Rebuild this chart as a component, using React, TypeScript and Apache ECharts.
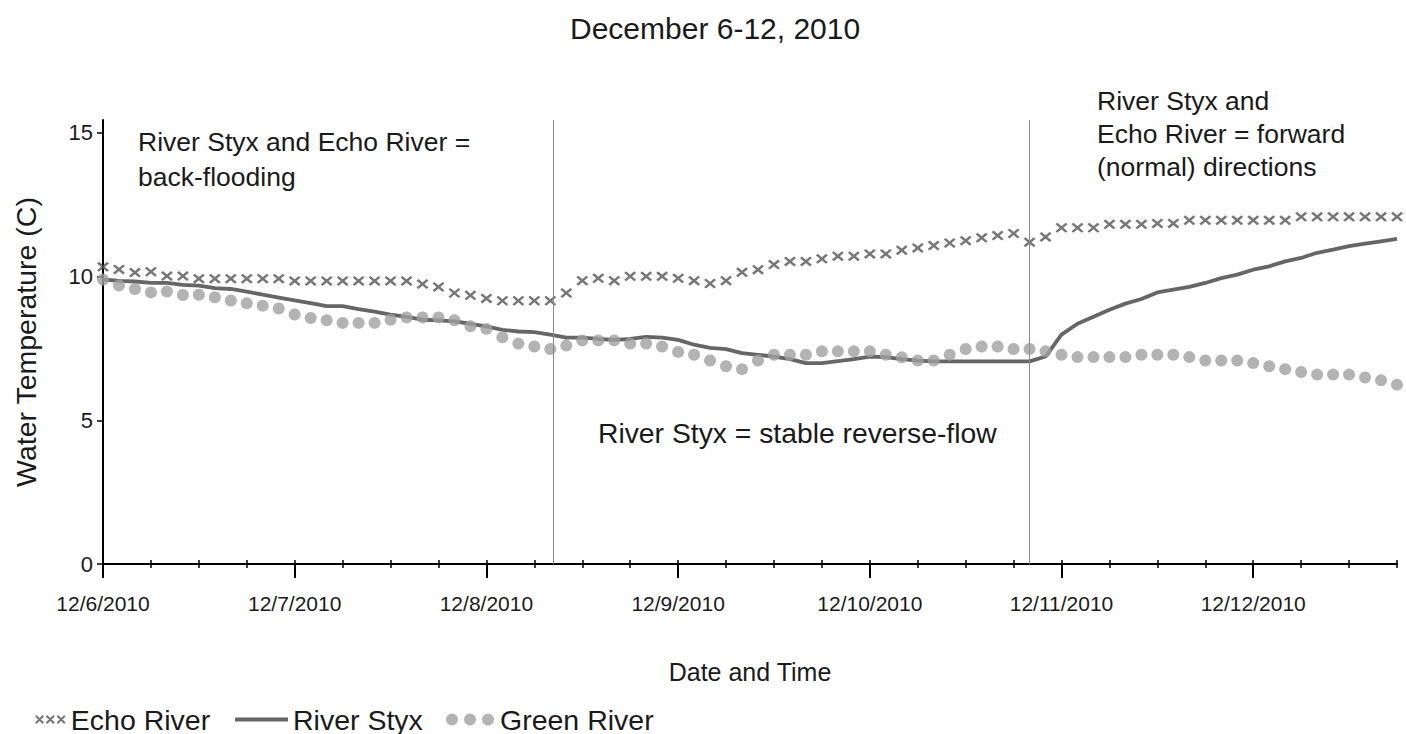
import React, { useEffect, useRef } from "react";
import * as echarts from "echarts";

const TITLE = "December 6-12, 2010";
const Y_NAME = "Water Temperature (C)";
const X_NAME = "Date and Time";
const DAY_LABELS = ["12/6/2010", "12/7/2010", "12/8/2010", "12/9/2010", "12/10/2010", "12/11/2010", "12/12/2010"];
const DAY_HOURS = [0, 24, 48, 72, 96, 120, 144];
const Y_TICKS = [0, 5, 10, 15];
const PHASE_LINES_HOURS = [56.4, 116];

// samples every 2 hours starting 12/6/2010 00:00
const SAMPLE_HOURS: number[] = Array.from({ length: 82 }, (_, i) => i * 2);

const ECHO_RIVER = [
  10.34, 10.25, 10.14, 10.17, 10.02, 10.02, 9.93, 9.93, 9.93, 9.93, 9.93, 9.93,
  9.85, 9.85, 9.85, 9.85, 9.85, 9.85, 9.85, 9.85, 9.74, 9.64, 9.43, 9.35,
  9.24, 9.16, 9.16, 9.16, 9.16, 9.43, 9.86, 9.94, 9.86, 10.01, 10.01, 10.01,
  9.94, 9.86, 9.76, 9.86, 10.15, 10.24, 10.42, 10.53, 10.53, 10.62, 10.71, 10.71,
  10.79, 10.79, 10.92, 11.0, 11.08, 11.17, 11.25, 11.35, 11.43, 11.5, 11.2, 11.38,
  11.7, 11.7, 11.7, 11.82, 11.82, 11.82, 11.85, 11.85, 11.96, 11.96, 11.96, 11.96,
  11.96, 11.96, 11.96, 12.08, 12.08, 12.08, 12.08, 12.08, 12.08, 12.08,
];

const RIVER_STYX = [
  9.9, 9.85, 9.83, 9.78, 9.78, 9.71, 9.69, 9.6, 9.57, 9.48, 9.37, 9.27,
  9.17, 9.08, 8.97, 8.97, 8.87, 8.78, 8.68, 8.6, 8.5, 8.48, 8.44, 8.36,
  8.27, 8.15, 8.09, 8.07, 7.98, 7.88, 7.88, 7.83, 7.8, 7.83, 7.9, 7.88,
  7.8, 7.63, 7.52, 7.48, 7.34, 7.28, 7.22, 7.13, 6.99, 6.99, 7.06, 7.13,
  7.22, 7.2, 7.13, 7.08, 7.05, 7.05, 7.05, 7.05, 7.05, 7.05, 7.05, 7.22,
  7.98, 8.36, 8.6, 8.85, 9.06, 9.22, 9.45, 9.55, 9.64, 9.78, 9.95, 10.07,
  10.24, 10.36, 10.53, 10.65, 10.83, 10.94, 11.06, 11.15, 11.23, 11.31,
];

const GREEN_RIVER = [
  9.9, 9.69, 9.57, 9.45, 9.48, 9.36, 9.37, 9.28, 9.17, 9.07, 8.99, 8.89,
  8.68, 8.56, 8.48, 8.39, 8.39, 8.39, 8.5, 8.58, 8.58, 8.58, 8.48, 8.27,
  8.18, 7.89, 7.67, 7.57, 7.48, 7.6, 7.78, 7.78, 7.78, 7.67, 7.67, 7.57,
  7.38, 7.28, 7.08, 6.88, 6.78, 7.08, 7.28, 7.28, 7.28, 7.4, 7.4, 7.4,
  7.4, 7.28, 7.19, 7.08, 7.08, 7.28, 7.48, 7.57, 7.57, 7.48, 7.48, 7.4,
  7.28, 7.2, 7.2, 7.2, 7.2, 7.28, 7.28, 7.28, 7.2, 7.08, 7.08, 7.08,
  6.99, 6.88, 6.78, 6.68, 6.59, 6.59, 6.59, 6.49, 6.39, 6.24,
];

const ANNOT_LEFT = "River Styx and Echo River =\nback-flooding";
const ANNOT_MID = "River Styx = stable reverse-flow";
const ANNOT_RIGHT = "River Styx and\nEcho River = forward\n(normal) directions";

const FONT = "'Liberation Sans', Arial, Helvetica, sans-serif";
const TEXT_COLOR = "#1a1a1a";

const X_SYMBOL = "path://M0,1.6L1.6,0L10,8.4L8.4,10ZM8.4,0L10,1.6L1.6,10L0,8.4Z";
const X3_ICON =
  "path://M0,1.6L1.6,0L10,8.4L8.4,10ZM8.4,0L10,1.6L1.6,10L0,8.4Z" +
  "M12,1.6L13.6,0L22,8.4L20.4,10ZM20.4,0L22,1.6L13.6,10L12,8.4Z" +
  "M24,1.6L25.6,0L34,8.4L32.4,10ZM32.4,0L34,1.6L25.6,10L24,8.4Z";
const LINE_ICON = "path://M0,0H50V4H0Z";
const DOT3_ICON =
  "path://M0,5a5,5 0 1,0 10,0a5,5 0 1,0 -10,0Z" +
  "M15,5a5,5 0 1,0 10,0a5,5 0 1,0 -10,0Z" +
  "M30,5a5,5 0 1,0 10,0a5,5 0 1,0 -10,0Z";

const ECHO_COLOR = "#555555";
const STYX_COLOR = "#666666";
const GREEN_COLOR = "#a0a0a0";

export default function App() {
  const ref = useRef<HTMLDivElement>(null);

  useEffect(() => {
    if (!ref.current) return;
    const chart = echarts.init(ref.current, undefined, { renderer: "svg" });

    const legendText = { fontFamily: FONT, fontSize: 28.5, color: TEXT_COLOR };

    const option: any = {
      animation: false,
      backgroundColor: "#ffffff",
      textStyle: { fontFamily: FONT },
      title: {
        text: TITLE,
        left: 565,
        top: 8,
        textStyle: { fontFamily: FONT, fontSize: 30, fontWeight: "normal", color: TEXT_COLOR },
      },
      grid: { left: 103, right: 9, top: 120, bottom: 170, containLabel: false },
      legend: [
        {
          left: 30, top: 700, itemWidth: 31, itemHeight: 9,
          data: [{ name: "Echo River", icon: X3_ICON }],
          textStyle: legendText, selectedMode: false,
        },
        {
          left: 230, top: 700, itemWidth: 53, itemHeight: 10,
          data: [{ name: "River Styx", icon: LINE_ICON }],
          textStyle: legendText, selectedMode: false,
        },
        {
          left: 441, top: 700, itemWidth: 50, itemHeight: 12,
          data: [{ name: "Green River", icon: DOT3_ICON }],
          textStyle: legendText, selectedMode: false,
        },
      ],
      xAxis: [
        {
          type: "value",
          min: 0,
          max: 162,
          name: X_NAME,
          nameLocation: "middle",
          nameGap: 95,
          nameTextStyle: { fontFamily: FONT, fontSize: 25, color: TEXT_COLOR },
          axisLine: { show: true, onZero: false, lineStyle: { color: "#000", width: 2 } },
          axisTick: { show: true, customValues: DAY_HOURS, length: 14, lineStyle: { color: "#000", width: 2 } },
          axisLabel: {
            customValues: DAY_HOURS,
            margin: 29,
            fontFamily: FONT,
            fontSize: 21,
            color: TEXT_COLOR,
            formatter: (v: number) => {
              const i = DAY_HOURS.indexOf(v);
              return i >= 0 ? DAY_LABELS[i] : "";
            },
          },
          splitLine: { show: false },
        },
        {
          type: "value",
          min: 0,
          max: 162,
          interval: 6,
          position: "bottom",
          offset: -4,
          axisLine: { show: false },
          axisTick: { show: true, length: 8, lineStyle: { color: "#000", width: 1.5 } },
          axisLabel: { show: false },
          splitLine: { show: false },
        },
      ],
      yAxis: {
        type: "value",
        min: 0,
        max: 15.45,
        name: Y_NAME,
        nameLocation: "middle",
        nameRotate: 90,
        nameGap: 63,
        nameTextStyle: { fontFamily: FONT, fontSize: 28.5, color: TEXT_COLOR },
        axisLine: { show: true, lineStyle: { color: "#000", width: 2 } },
        axisTick: { show: true, customValues: Y_TICKS, length: 6, lineStyle: { color: "#000", width: 1.5 } },
        axisLabel: { customValues: Y_TICKS, margin: 10, fontFamily: FONT, fontSize: 22, color: TEXT_COLOR },
        splitLine: { show: false },
      },
      graphic: [
        {
          type: "text", left: 138, top: 124,
          style: { text: ANNOT_LEFT, font: `26.5px ${FONT}`, fill: TEXT_COLOR, lineHeight: 35 },
        },
        {
          type: "text", left: 598, top: 419,
          style: { text: ANNOT_MID, font: `28.3px ${FONT}`, fill: TEXT_COLOR },
        },
        {
          type: "text", left: 1097, top: 84,
          style: { text: ANNOT_RIGHT, font: `26.5px ${FONT}`, fill: TEXT_COLOR, lineHeight: 33 },
        },
      ],
      series: [
        {
          name: "Echo River",
          type: "scatter",
          symbol: X_SYMBOL,
          symbolSize: [12, 10],
          itemStyle: { color: ECHO_COLOR },
          data: SAMPLE_HOURS.map((h, i) => [h, ECHO_RIVER[i]]),
          z: 3,
        },
        {
          name: "River Styx",
          type: "line",
          showSymbol: false,
          symbol: "none",
          lineStyle: { color: STYX_COLOR, width: 3.8 },
          itemStyle: { color: STYX_COLOR },
          data: SAMPLE_HOURS.map((h, i) => [h, RIVER_STYX[i]]),
          markLine: {
            silent: true,
            symbol: "none",
            label: { show: false },
            lineStyle: { color: "#8a8a8a", width: 1, type: "solid" },
            data: PHASE_LINES_HOURS.map((h) => ({ xAxis: h })),
          },
          z: 2,
        },
        {
          name: "Green River",
          type: "scatter",
          symbol: "circle",
          symbolSize: 12,
          itemStyle: { color: GREEN_COLOR },
          data: SAMPLE_HOURS.map((h, i) => [h, GREEN_RIVER[i]]),
          z: 4,
        },
      ],
    };

    chart.setOption(option);
    return () => chart.dispose();
  }, []);

  return (
    <div
      ref={ref}
      style={{ position: "fixed", left: 0, top: 0, width: 1406, height: 734, background: "#fff" }}
    />
  );
}
